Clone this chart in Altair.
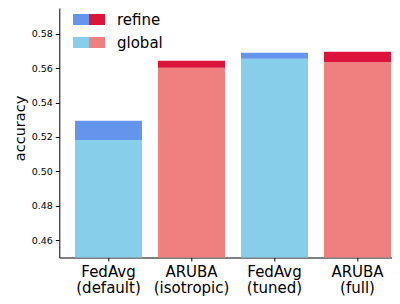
import altair as alt
import pandas as pd

methods = ["FedAvg\n(default)", "ARUBA\n(isotropic)", "FedAvg\n(tuned)", "ARUBA\n(full)"]
families = ["FedAvg", "ARUBA", "FedAvg", "ARUBA"]
global_acc = [0.5183, 0.5602, 0.5654, 0.5636]
refine_acc = [0.5294, 0.5642, 0.5689, 0.5695]
parts = ["refine", "global"]
y_ticks = [0.46, 0.48, 0.50, 0.52, 0.54, 0.56, 0.58]

blue_colors = ["#6495ED", "#87CEEB"]   # refine, global
red_colors = ["#DC143C", "#F08080"]

rows = []
for m, f, g, r in zip(methods, families, global_acc, refine_acc):
    rows.append({"method": m, "family": f, "part": "global", "lo": 0.0, "hi": g})
    rows.append({"method": m, "family": f, "part": "refine", "lo": g, "hi": r})
df = pd.DataFrame(rows)

FONT = "DejaVu Sans"
SYM = "M-1,-0.6875H1V0.6875H-1Z"

x_enc = alt.X(
    "method:N", sort=methods,
    scale=alt.Scale(paddingInner=0.1928, paddingOuter=0.1006, align=0.94),
    axis=alt.Axis(title=None, labelAngle=0, labelFontSize=15, labelFont=FONT,
                  labelColor="black", labelLineHeight=16.5, labelPadding=3,
                  labelExpr="split(datum.label, '\\n')", tickSize=3.5,
                  tickColor="black", domainColor="black", grid=False),
)
y_enc = alt.Y(
    "hi:Q",
    scale=alt.Scale(domain=[0.45, 0.5949], zero=False, nice=False),
    axis=alt.Axis(title="accuracy", values=y_ticks, format=".2f", labelFontSize=9.5,
                  labelFont=FONT, labelColor="black", labelPadding=3, tickSize=4,
                  tickColor="black", domainColor="black", grid=False,
                  titleFont=FONT, titleFontSize=14.5, titleFontWeight="normal",
                  titleColor="black", titleAngle=270, titleX=-34.5, titleY=120,
                  titleAlign="center", titleBaseline="alphabetic"),
)


def legend(x, show_labels):
    kw = {}
    if not show_labels:
        kw["labelExpr"] = "''"
    return alt.Legend(
        title=None, orient="none", legendX=x, legendY=3.5, padding=0,
        symbolType=SYM, symbolSize=256, symbolStrokeWidth=0, symbolOpacity=1,
        labelFont=FONT, labelFontSize=15, labelColor="black",
        labelOffset=12, rowPadding=7, **kw,
    )


blue = alt.Chart(df).transform_filter(alt.datum.family == "FedAvg").mark_bar(clip=True).encode(
    x=x_enc, y=y_enc, y2="lo:Q",
    color=alt.Color("part:N", scale=alt.Scale(domain=parts, range=blue_colors),
                    legend=legend(13.7, False)),
)
red = alt.Chart(df).transform_filter(alt.datum.family == "ARUBA").mark_bar(clip=True).encode(
    x=x_enc, y=y_enc, y2="lo:Q",
    color=alt.Color("part:N", scale=alt.Scale(domain=parts, range=red_colors),
                    legend=legend(29.7, True)),
)

chart = alt.layer(blue, red).resolve_scale(color="independent").properties(
    width=332.7, height=249.5,
    autosize=alt.AutoSizeParams(type="none"),
    padding={"left": 51.3, "top": 0, "right": 0, "bottom": 38.5},
).configure_view(strokeWidth=0)

chart.save("out.html", embed_options={"renderer": "svg", "actions": False})
